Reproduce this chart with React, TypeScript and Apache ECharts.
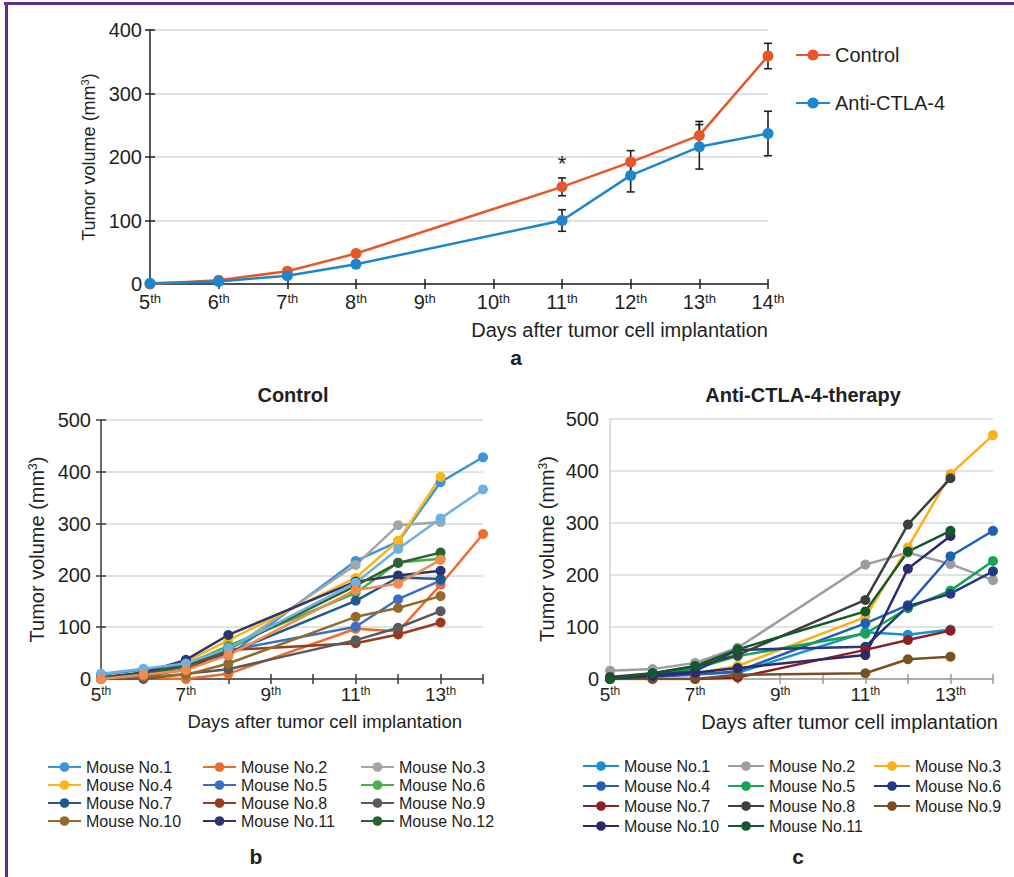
import React, { useEffect, useRef } from "react";
import * as echarts from "echarts";

const FONT = "'Liberation Sans', Arial, Helvetica, sans-serif";
const INK = "#231f20";

// ---------- shared x values (days after implantation) ----------
const days = [5, 6, 7, 8, 11, 12, 13, 14];

// ---------- panel a: group means with error bars ----------
const groupNames = ["Control", "Anti-CTLA-4"];
const controlMean = [0, 6, 20, 48, 153, 192, 234, 359];
const controlErr = [0, 1, 2, 4, 14, 18, 22, 20];
const antiMean = [1, 4, 13, 31, 100, 171, 216, 237];
const antiErr = [0, 1, 2, 5, 17, 26, 35, 35];
const controlMarks = ["", "", "", "", "*", "", "", ""];
const antiMarks = ["", "", "", "", "", "", "", ""];
const groupColors = ["#e8572a", "#1e86cd"];

// ---------- panel b: control mice ----------
const bNames = [
  "Mouse No.1", "Mouse No.2", "Mouse No.3", "Mouse No.4", "Mouse No.5", "Mouse No.6",
  "Mouse No.7", "Mouse No.8", "Mouse No.9", "Mouse No.10", "Mouse No.11", "Mouse No.12",
  "Mouse No.13", "Mouse No.14",
];
const bValues: (number | null)[][] = [
  [8, 18, 30, 45, 228, 265, 380, 428],
  [0, 2, 0, 10, 97, 92, 182, 280],
  [3, 10, 22, 55, 220, 297, 303, null],
  [3, 12, 33, 75, 195, 267, 390, null],
  [2, 10, 25, 55, 101, 154, 190, null],
  [2, 10, 28, 64, 166, 225, 232, null],
  [2, 12, 27, 50, 151, 196, 193, null],
  [1, 6, 18, 56, 69, 86, 109, null],
  [0, 0, 10, 19, 75, 99, 131, null],
  [1, 5, 8, 30, 120, 137, 160, null],
  [3, 12, 37, 85, 188, 200, 209, null],
  [2, 10, 25, 58, 180, 224, 244, null],
  [10, 20, 30, 59, 186, 251, 310, 366],
  [0, 8, 17, 46, 172, 184, 230, null],
];
const bColors = [
  "#3b96d6", "#ec6b2d", "#a5a5a5", "#fcb61a", "#3d6fc0", "#4ead4b", "#22588f",
  "#9a3b1d", "#575b5b", "#936b2d", "#2a3672", "#2c6332", "#6eb0e2", "#f18b4e",
];
const bLegendColumns = [
  ["Mouse No.1", "Mouse No.4", "Mouse No.7", "Mouse No.10"],
  ["Mouse No.2", "Mouse No.5", "Mouse No.8", "Mouse No.11"],
  ["Mouse No.3", "Mouse No.6", "Mouse No.9", "Mouse No.12"],
];

// ---------- panel c: anti-CTLA-4 mice ----------
const cNames = [
  "Mouse No.1", "Mouse No.2", "Mouse No.3", "Mouse No.4", "Mouse No.5", "Mouse No.6",
  "Mouse No.7", "Mouse No.8", "Mouse No.9", "Mouse No.10", "Mouse No.11",
];
const cValues: (number | null)[][] = [
  [0, 5, 10, 12, 90, 85, 95, null],
  [16, 19, 31, 60, 220, 243, 221, 190],
  [0, 4, 11, 25, 119, 253, 394, 469],
  [1, 5, 8, 15, 107, 142, 236, 285],
  [2, 8, 20, 44, 87, 136, 170, 227],
  [2, 8, 15, 56, 62, 140, 164, 207],
  [0, 0, 0, 3, 56, 75, 93, null],
  [4, 11, 24, 46, 152, 297, 386, null],
  [0, 0, 0, 8, 11, 38, 43, null],
  [1, 6, 12, 21, 46, 212, 275, null],
  [0, 11, 25, 57, 130, 245, 285, null],
];
const cColors = [
  "#1b8fd6", "#9d9d9d", "#fbb01a", "#1f5fb7", "#15a550", "#233a86",
  "#8c1f1f", "#3a403f", "#7b4f23", "#2b2a6a", "#115a2b",
];
const cLegendColumns = [
  ["Mouse No.1", "Mouse No.4", "Mouse No.7", "Mouse No.10"],
  ["Mouse No.2", "Mouse No.5", "Mouse No.8", "Mouse No.11"],
  ["Mouse No.3", "Mouse No.6", "Mouse No.9"],
];

const yTitle = "{n|Tumor volume (mm}{s|3}{n|)}";
const xTitle = "Days after tumor cell implantation";

function supRich(size: number, supSize: number) {
  return {
    n: { fontSize: size, color: INK, fontFamily: FONT },
    s: { fontSize: supSize, color: INK, fontFamily: FONT, verticalAlign: "top" },
  };
}

const dayLabel = (v: number) => `{n|${v}}{s|th}`;
const oddDayLabel = (v: number) => (v % 2 === 1 ? `{n|${v}}{s|th}` : "");

function errorSeries(mean: number[], err: number[], marks: string[]) {
  return {
    type: "custom",
    xAxisIndex: 0,
    yAxisIndex: 0,
    silent: true,
    z: 2,
    data: days.map((d, i) => [d, mean[i] - err[i], mean[i] + err[i]]),
    encode: { x: 0, y: [1, 2] },
    renderItem: (params: any, api: any) => {
      const i = params.dataIndex;
      const x = api.value(0);
      const lo = api.coord([x, api.value(1)]);
      const hi = api.coord([x, api.value(2)]);
      const children: any[] = [];
      const st = { stroke: INK, lineWidth: 1.6 };
      if (err[i] > 0) {
        children.push({ type: "line", shape: { x1: hi[0], y1: hi[1], x2: lo[0], y2: lo[1] }, style: st });
        children.push({ type: "line", shape: { x1: hi[0] - 4, y1: hi[1], x2: hi[0] + 4, y2: hi[1] }, style: st });
        children.push({ type: "line", shape: { x1: lo[0] - 4, y1: lo[1], x2: lo[0] + 4, y2: lo[1] }, style: st });
      }
      if (marks[i]) {
        children.push({
          type: "text",
          x: hi[0],
          y: hi[1] - 3,
          style: { text: marks[i], textAlign: "center", textVerticalAlign: "bottom", font: `22px ${FONT}`, fill: INK },
        });
      }
      return { type: "group", children };
    },
  };
}

function lineSeries(name: string, values: (number | null)[], color: string, xi: number, yi: number, size: number, width: number) {
  return {
    type: "line",
    name,
    xAxisIndex: xi,
    yAxisIndex: yi,
    data: days.map((d, i) => [d, values[i]]).filter((p) => p[1] !== null),
    symbol: "circle",
    symbolSize: size,
    showSymbol: true,
    lineStyle: { color, width },
    itemStyle: { color },
    z: 3,
  };
}

function tickAxisX(gridIndex: number, color: string, len: number) {
  return {
    type: "value",
    gridIndex,
    position: "bottom",
    min: 5,
    max: 14,
    interval: 1,
    axisLine: { show: false, onZero: false },
    axisTick: { show: true, inside: true, length: len, lineStyle: { color, width: 1.5 } },
    axisLabel: { show: false },
    splitLine: { show: false },
  };
}

function tickAxisY(gridIndex: number, max: number, color: string, len: number) {
  return {
    type: "value",
    gridIndex,
    position: "left",
    min: 0,
    max,
    interval: 100,
    axisLine: { show: false, onZero: false },
    axisTick: { show: true, inside: true, length: len, lineStyle: { color, width: 1.5 } },
    axisLabel: { show: false },
    splitLine: { show: false },
  };
}

function legendCol(names: string[], prefix: string, left: number, top: number, gap: number, iw: number) {
  return {
    orient: "vertical",
    left,
    top,
    itemGap: gap,
    itemWidth: iw,
    itemHeight: 12,
    padding: 0,
    selectedMode: false,
    data: names.map((n) => prefix + n),
    formatter: (n: string) => n.slice(prefix.length),
    textStyle: { fontSize: 16, color: INK, fontFamily: FONT },
  };
}

export default function App() {
  const ref = useRef<HTMLDivElement>(null);

  useEffect(() => {
    document.body.style.margin = "0";
    const chart = echarts.init(ref.current!, null, { renderer: "svg" });

    const option: any = {
      animation: false,
      backgroundColor: "#ffffff",
      textStyle: { fontFamily: FONT },
      grid: [
        { left: 150, top: 30, width: 618, height: 254 },
        { left: 101, top: 420, width: 382, height: 259 },
        { left: 610, top: 419, width: 383, height: 260 },
      ],
      xAxis: [
        {
          type: "value", gridIndex: 0, position: "bottom", min: 5, max: 14, interval: 1,
          axisLine: { show: true, onZero: false, lineStyle: { color: INK, width: 1.5 } },
          axisTick: { show: true, length: 5, lineStyle: { color: INK, width: 1.5 } },
          axisLabel: { margin: 8, formatter: dayLabel, rich: supRich(20, 13) },
          splitLine: { show: false },
          name: xTitle, nameLocation: "end", nameGap: 0,
          nameTextStyle: { fontSize: 20, color: INK, align: "right", verticalAlign: "top", padding: [36, 0, 0, 0] },
        },
        tickAxisX(0, INK, 5),
        {
          type: "value", gridIndex: 1, position: "bottom", min: 5, max: 14, interval: 1,
          axisLine: { show: true, onZero: false, lineStyle: { color: "#3a3a3a", width: 1.5 } },
          axisTick: { show: true, length: 5, lineStyle: { color: "#3a3a3a", width: 1.5 } },
          axisLabel: { margin: 6, formatter: oddDayLabel, rich: supRich(19, 12) },
          splitLine: { show: false },
          name: xTitle, nameLocation: "end", nameGap: 0,
          nameTextStyle: { fontSize: 18.5, color: INK, align: "right", verticalAlign: "top", padding: [33, 21, 0, 0] },
        },
        tickAxisX(1, "#3a3a3a", 5),
        {
          type: "value", gridIndex: 2, position: "bottom", min: 5, max: 14, interval: 1,
          axisLine: { show: true, onZero: false, lineStyle: { color: "#9a9a9a", width: 1.5 } },
          axisTick: { show: true, length: 5, lineStyle: { color: "#9a9a9a", width: 1.5 } },
          axisLabel: { margin: 6, formatter: oddDayLabel, rich: supRich(19, 12) },
          splitLine: { show: false },
          name: xTitle, nameLocation: "end", nameGap: 5,
          nameTextStyle: { fontSize: 20, color: INK, align: "right", verticalAlign: "top", padding: [33, 0, 0, 0] },
        },
        tickAxisX(2, "#9a9a9a", 5),
      ],
      yAxis: [
        {
          type: "value", gridIndex: 0, position: "left", min: 0, max: 400, interval: 100,
          axisLine: { show: true, onZero: false, lineStyle: { color: INK, width: 1.5 } },
          axisTick: { show: true, length: 5, lineStyle: { color: INK, width: 1.5 } },
          axisLabel: { margin: 8, fontSize: 20, color: INK },
          splitLine: { show: true, lineStyle: { color: "#d6d6d6", width: 1.5 } },
          name: yTitle, nameLocation: "middle", nameGap: 50,
          nameTextStyle: { rich: supRich(18, 11) },
        },
        tickAxisY(0, 400, INK, 5),
        {
          type: "value", gridIndex: 1, position: "left", min: 0, max: 500, interval: 100,
          axisLine: { show: true, onZero: false, lineStyle: { color: "#3a3a3a", width: 1.5 } },
          axisTick: { show: true, length: 5, lineStyle: { color: "#3a3a3a", width: 1.5 } },
          axisLabel: { margin: 10, fontSize: 20, color: INK },
          splitLine: { show: true, lineStyle: { color: "#d9d9d9", width: 1.5 } },
          name: yTitle, nameLocation: "middle", nameGap: 54,
          nameTextStyle: { rich: supRich(20, 12) },
        },
        tickAxisY(1, 500, "#3a3a3a", 5),
        {
          type: "value", gridIndex: 2, position: "left", min: 0, max: 500, interval: 100,
          axisLine: { show: true, onZero: false, lineStyle: { color: "#d2d2d2", width: 1.5 } },
          axisTick: { show: false },
          axisLabel: { margin: 11, fontSize: 20, color: INK },
          splitLine: { show: true, lineStyle: { color: "#d9d9d9", width: 1.5 } },
          name: yTitle, nameLocation: "middle", nameGap: 53,
          nameTextStyle: { rich: supRich(20, 12) },
        },
      ],
      legend: [
        {
          orient: "vertical", left: 795, top: 45, itemGap: 28, itemWidth: 34, itemHeight: 14, padding: 0,
          selectedMode: false,
          data: groupNames,
          textStyle: { fontSize: 20, color: INK, fontFamily: FONT },
        },
        legendCol(bLegendColumns[0], "b:", 47, 759, 2, 33),
        legendCol(bLegendColumns[1], "b:", 202, 759, 2, 33),
        legendCol(bLegendColumns[2], "b:", 360, 759, 2, 33),
        legendCol(cLegendColumns[0], "c:", 582, 758, 4, 36),
        legendCol(cLegendColumns[1], "c:", 727, 758, 4, 36),
        legendCol(cLegendColumns[2], "c:", 873, 758, 4, 36),
      ],
      graphic: [
        { type: "rect", shape: { x: 4, y: 2, width: 1010, height: 3 }, style: { fill: "#5d2e8f" } },
        { type: "rect", shape: { x: 5, y: 2, width: 3, height: 875 }, style: { fill: "#5d2e8f" } },
        { type: "text", x: 516, y: 357, style: { text: "a", textAlign: "center", textVerticalAlign: "middle", font: `bold 21px ${FONT}`, fill: INK } },
        { type: "text", x: 256, y: 856, style: { text: "b", textAlign: "center", textVerticalAlign: "middle", font: `bold 21px ${FONT}`, fill: INK } },
        { type: "text", x: 798, y: 856, style: { text: "c", textAlign: "center", textVerticalAlign: "middle", font: `bold 21px ${FONT}`, fill: INK } },
        { type: "text", x: 293, y: 395, style: { text: "Control", textAlign: "center", textVerticalAlign: "middle", font: `bold 20px ${FONT}`, fill: INK } },
        { type: "text", x: 803, y: 395, style: { text: "Anti-CTLA-4-therapy", textAlign: "center", textVerticalAlign: "middle", font: `bold 20px ${FONT}`, fill: INK } },
      ],
      series: [
        errorSeries(controlMean, controlErr, controlMarks),
        errorSeries(antiMean, antiErr, antiMarks),
        lineSeries(groupNames[0], controlMean, groupColors[0], 0, 0, 11, 2.5),
        lineSeries(groupNames[1], antiMean, groupColors[1], 0, 0, 11, 2.5),
        ...bNames.map((n, i) => lineSeries("b:" + n, bValues[i], bColors[i], 2, 2, 10, 2.5)),
        ...cNames.map((n, i) => lineSeries("c:" + n, cValues[i], cColors[i], 4, 4, 10, 2.5)),
      ],
    };

    chart.setOption(option);
    return () => chart.dispose();
  }, []);

  return <div ref={ref} style={{ width: 1014, height: 877 }} />;
}
